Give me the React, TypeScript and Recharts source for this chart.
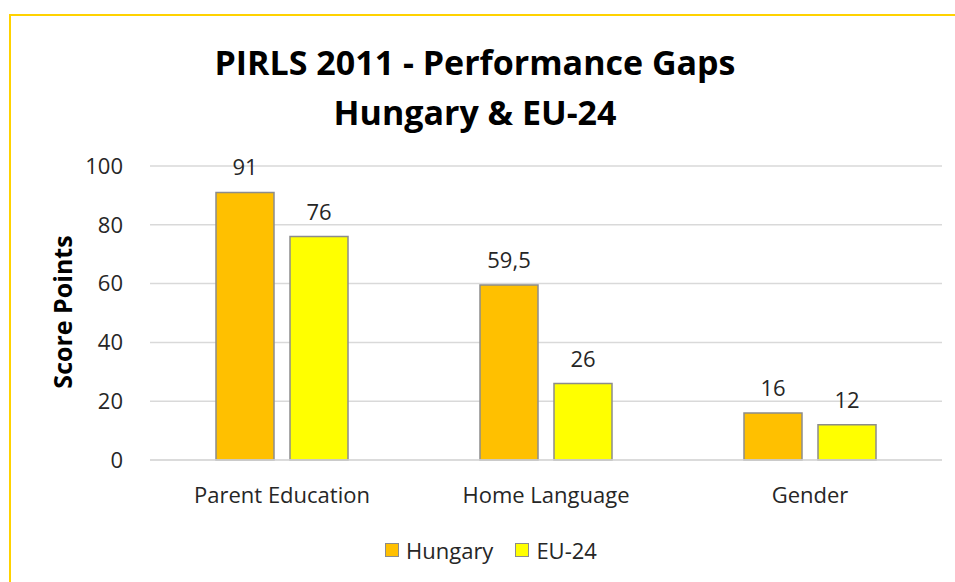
import React from 'react';
import { BarChart, Bar, XAxis, YAxis, CartesianGrid, LabelList } from 'recharts';

const categories = ['Parent Education', 'Home Language', 'Gender'];
const hungary = [91, 59.5, 16];
const eu24 = [76, 26, 12];
const yTicks = [0, 20, 40, 60, 80, 100];

const series = [
  { key: 'hungary', name: 'Hungary', color: '#FFC000' },
  { key: 'eu24', name: 'EU-24', color: '#FFFF00' },
];

const data = categories.map((c, i) => ({ category: c, hungary: hungary[i], eu24: eu24[i] }));

const FONT = '"Open Sans", "Noto Sans", sans-serif';
const TEXT = '#262626';

const fmt = (v: any) => String(v).replace('.', ',');

// legend with small bordered squares like the Excel original
const LegendBox = () => (
  <div style={{ position: 'absolute', left: 385, top: 538, display: 'flex', gap: 22, fontFamily: FONT, fontSize: 22, lineHeight: '24px', color: TEXT }}>
    {series.map(s => (
      <div key={s.key} style={{ display: 'flex', alignItems: 'center' }}>
        <span style={{ width: 12, height: 12, background: s.color, border: '1.5px solid #8c8c8c', marginRight: 7 }} />
        <span>{s.name}</span>
      </div>
    ))}
  </div>
);

export default function App() {
  return (
    <div style={{ position: 'absolute', left: 0, top: 0, width: 955, height: 582, overflow: 'hidden', background: '#fff' }}>
      <div style={{ position: 'absolute', left: 9, top: 14, width: 1000, height: 1000, borderTop: '2px solid #FFD200', borderLeft: '2px solid #FFD200' }} />
      <div style={{ position: 'absolute', left: 0, top: 37, width: 950, textAlign: 'center', fontFamily: FONT, fontWeight: 700, fontSize: 34, lineHeight: '50px', color: '#000' }}>
        PIRLS 2011 - Performance Gaps
        <br />
        Hungary &amp; EU-24
      </div>
      <div style={{ position: 'absolute', left: 62, top: 312, transform: 'translate(-50%, -50%) rotate(-90deg)', fontFamily: FONT, fontWeight: 700, fontSize: 25, color: '#000', whiteSpace: 'nowrap' }}>
        Score Points
      </div>
      <div style={{ position: 'absolute', left: 0, top: 0 }}>
        {/* x axis keeps its default 30px height, so bottom margin + 30 = 122 */}
        <BarChart width={955} height={582} data={data} margin={{ top: 166, right: 13, bottom: 92, left: 70 }} barGap={16} barCategoryGap="25%">
          <CartesianGrid vertical={false} stroke="#d9d9d9" strokeWidth={1.5} />
          <XAxis dataKey="category" axisLine={{ stroke: '#d9d9d9', strokeWidth: 1.5 }} tickLine={false} tickSize={0} tickMargin={27}
            tick={{ fontFamily: FONT, fontSize: 22, fill: TEXT }} />
          <YAxis width={80} domain={[0, 100]} ticks={yTicks} axisLine={false} tickLine={false} tickSize={0} tickMargin={27}
            tick={{ fontFamily: FONT, fontSize: 22, fill: TEXT }} />
          {series.map(s => (
            <Bar key={s.key} dataKey={s.key} name={s.name} fill={s.color} stroke="#8c8c8c" strokeWidth={1.5} isAnimationActive={false}>
              <LabelList dataKey={s.key} position="top" offset={17} formatter={fmt} style={{ fontFamily: FONT, fontSize: 22, fill: TEXT }} />
            </Bar>
          ))}
        </BarChart>
      </div>
      <LegendBox />
    </div>
  );
}
